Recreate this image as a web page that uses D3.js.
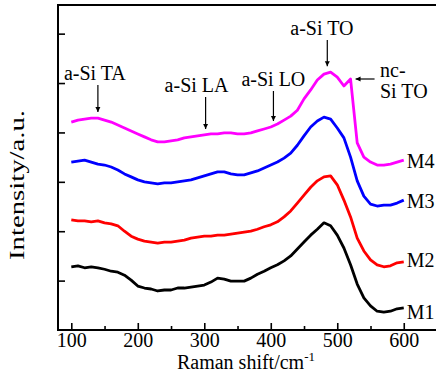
<!DOCTYPE html>
<html>
<head>
<meta charset="utf-8">
<script src="https://cdn.jsdelivr.net/npm/d3@7"></script>
<style>
  html, body { margin: 0; padding: 0; background: #fff; }
  svg { display: block; }
  text { font-family: "Liberation Serif", "Times New Roman", serif; fill: #000; }
</style>
</head>
<body>
<svg id="chart" width="436" height="378"></svg>
<script>
// Raman shift (cm-1) sampling
const ramanShift = d3.range(100, 601, 10);

// Intensities (a.u., offset stacked)
const m1 = [1.28,1.30,1.26,1.28,1.26,1.23,1.19,1.17,1.11,1.01,0.89,0.85,0.83,0.79,0.81,0.81,0.85,0.85,0.87,0.89,0.91,0.97,1.05,1.03,0.99,0.99,0.99,1.05,1.13,1.19,1.26,1.32,1.40,1.50,1.64,1.78,1.92,2.04,2.17,2.11,1.92,1.66,1.32,0.93,0.65,0.49,0.38,0.36,0.38,0.43,0.45];
const m2 = [2.23,2.21,2.21,2.19,2.21,2.17,2.15,2.11,2.00,1.90,1.84,1.80,1.78,1.76,1.78,1.78,1.80,1.82,1.86,1.88,1.90,1.90,1.92,1.92,1.94,1.96,1.98,2.00,2.04,2.09,2.13,2.19,2.29,2.41,2.57,2.73,2.89,3.02,3.10,3.12,2.94,2.63,2.29,1.86,1.60,1.42,1.32,1.28,1.30,1.36,1.38];
const m3 = [3.40,3.42,3.44,3.40,3.36,3.34,3.30,3.24,3.16,3.10,3.04,3.00,2.98,2.96,2.98,2.98,3.00,3.02,3.04,3.08,3.12,3.16,3.20,3.20,3.16,3.14,3.14,3.18,3.22,3.28,3.34,3.40,3.48,3.58,3.74,3.93,4.11,4.23,4.31,4.27,4.09,3.89,3.50,3.02,2.71,2.55,2.51,2.53,2.53,2.57,2.63];
const m4 = [4.21,4.25,4.27,4.29,4.29,4.25,4.21,4.15,4.09,4.03,3.97,3.91,3.85,3.81,3.81,3.83,3.85,3.89,3.91,3.93,3.95,3.97,3.97,3.99,3.99,3.97,3.97,3.99,4.03,4.07,4.11,4.17,4.25,4.33,4.45,4.68,4.86,5.06,5.18,5.22,5.12,4.94,5.08,3.79,3.50,3.40,3.34,3.34,3.36,3.40,3.44];

const seriesNames = ["M1", "M2", "M3", "M4"];
const seriesColors = ["#000000", "#ff0000", "#0000ff", "#ff00ff"];
const seriesValues = [m1, m2, m3, m4];

const xMajorTicks = [100, 200, 300, 400, 500, 600];
const xMinorTicks = [150, 250, 350, 450, 550];
const yTicks = [1, 2, 3, 4, 5, 6];

// Annotations: label, peak position (cm-1)
const peakLabels = ["a-Si TA", "a-Si LA", "a-Si LO", "a-Si TO"];
const peakPositions = [140, 302, 404, 485];
const ncLabel = ["nc-", "Si TO"];
const ncPosition = 520;

const svg = d3.select("#chart");
const padL = 58, padR = 437, padT = 5, padB = 330;

const x = d3.scaleLinear().domain([80, 650]).range([padL, padR]);
const y = d3.scaleLinear().domain([0, 6.58]).range([padB, padT]);

// frame
svg.append("rect")
  .attr("x", padL).attr("y", padT)
  .attr("width", padR - padL + 4).attr("height", padB - padT)
  .attr("fill", "none").attr("stroke", "#000").attr("stroke-width", 2);

// x axis (inward ticks)
const xAxis = svg.append("g").attr("transform", `translate(0,${padB})`)
  .call(d3.axisBottom(x).tickValues(xMajorTicks).tickSize(-7).tickPadding(3).tickFormat(d3.format("d")));
xAxis.select(".domain").remove();
xAxis.selectAll(".tick line").attr("stroke-width", 1.6);
xAxis.selectAll(".tick text").attr("font-size", 20).attr("font-family", "Liberation Serif").attr("dy", "0.72em");

const xMinor = svg.append("g").attr("transform", `translate(0,${padB})`)
  .call(d3.axisBottom(x).tickValues(xMinorTicks).tickSize(-4).tickFormat(""));
xMinor.select(".domain").remove();
xMinor.selectAll(".tick line").attr("stroke-width", 1.6);

// y axis (inward ticks, no labels)
const yAxis = svg.append("g").attr("transform", `translate(${padL},0)`)
  .call(d3.axisLeft(y).tickValues(yTicks).tickSize(-7).tickFormat(""));
yAxis.select(".domain").remove();
yAxis.selectAll(".tick line").attr("stroke-width", 1.6);

// axis titles
const xt = svg.append("text")
  .attr("x", 246).attr("y", 369).attr("text-anchor", "middle")
  .attr("font-size", 20);
xt.append("tspan").text("Raman shift/cm");
xt.append("tspan").attr("font-size", 13).attr("dy", -8).text("-1");

svg.append("text")
  .attr("transform", "translate(24,185) rotate(-90)")
  .attr("text-anchor", "middle")
  .attr("font-size", 20)
  .attr("textLength", 150).attr("lengthAdjust", "spacingAndGlyphs")
  .text("Intensity/a.u.");

// spectra
const line = d3.line()
  .x((d, i) => x(ramanShift[i]))
  .y(d => y(d))
  .curve(d3.curveLinear);

seriesValues.forEach((vals, k) => {
  svg.append("path")
    .attr("d", line(vals))
    .attr("fill", "none")
    .attr("stroke", seriesColors[k])
    .attr("stroke-width", 2.8)
    .attr("stroke-linejoin", "round");
  svg.append("text")
    .attr("x", x(ramanShift[ramanShift.length - 1]) + 3)
    .attr("y", y(vals[vals.length - 1]) + [11, 5, 8, 8][k])
    .attr("font-size", 20)
    .text(seriesNames[k]);
});

// arrow marker
const defs = svg.append("defs");
defs.append("marker")
  .attr("id", "ah").attr("viewBox", "0 0 10 10")
  .attr("refX", 10).attr("refY", 5)
  .attr("markerWidth", 5).attr("markerHeight", 6)
  .attr("markerUnits", "userSpaceOnUse")
  .attr("orient", "auto")
  .append("path").attr("d", "M0,0 L10,5 L0,10 Z").attr("fill", "#000");

// peak annotations (vertical arrows above M4)
const labelBaselines = [80, 92, 86, 35];
const labelDx = [-34, -41, -32, -37];
peakLabels.forEach((lab, i) => {
  const px = x(peakPositions[i]);
  const iy = ramanShift.indexOf(Math.round(peakPositions[i] / 10) * 10);
  const curveY = y(m4[iy]);
  svg.append("text")
    .attr("x", px + labelDx[i]).attr("y", labelBaselines[i])
    .attr("font-size", 20).text(lab);
  svg.append("line")
    .attr("x1", px).attr("x2", px)
    .attr("y1", labelBaselines[i] + 5).attr("y2", curveY - 6)
    .attr("stroke", "#000").attr("stroke-width", 1.2)
    .attr("marker-end", "url(#ah)");
});

// nc-Si TO annotation (horizontal arrow)
const ncX = x(ncPosition) + 5;
const ncY = 79;
svg.append("line")
  .attr("x1", ncX + 19).attr("x2", ncX)
  .attr("y1", ncY).attr("y2", ncY)
  .attr("stroke", "#000").attr("stroke-width", 1.2)
  .attr("marker-end", "url(#ah)");
svg.append("text").attr("font-size", 20)
  .attr("x", 380).attr("y", 77).text(ncLabel[0]);
svg.append("text").attr("font-size", 20)
  .attr("x", 380).attr("y", 98).text(ncLabel[1]);
</script>
</body>
</html>
